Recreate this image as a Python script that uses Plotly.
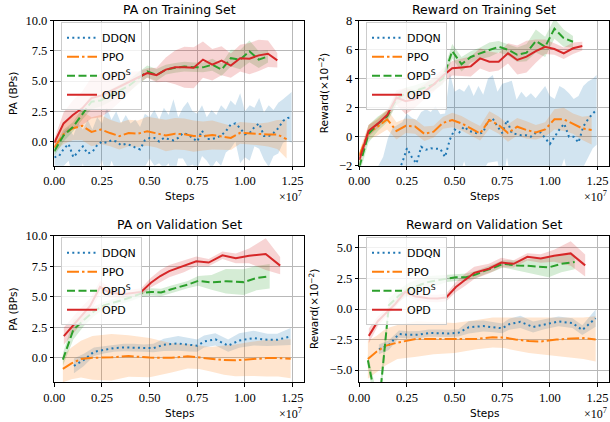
import plotly.graph_objects as go

W, H = 610, 422

# ---------------- data (steps in units of 1e7) ----------------
# training-set evaluation grids
X_TRAIN = [round(1.17 * k / 24, 4) for k in range(25)]          # OPD
X_TRAIN_S = X_TRAIN[:24]                                          # OPD^S
X_TRAIN_PPO = [round(1.17 * k / 24, 4) for k in range(26)]       # PPO
X_TRAIN_DDQN = [round(0.025 * k, 4) for k in range(50)] + [1.245]

# PA on training set
TL_OPD = [-0.1, 1.5, 2.2, 2.75, 3.6, 3.8, 4.15, 4.55, 4.9, 5.3, 5.67, 5.5, 5.95, 6.14, 6.15, 6.1, 6.78, 6.36, 6.69, 6.28, 6.9, 6.86, 7.13, 7.27, 6.72]
TL_OPD_STD = [0.3, 0.9, 1.2, 1.4, 1.7, 1.8, 1.6, 1.3, 0.9, 0.5, 0.4, 0.6, 1.0, 1.4, 1.7, 1.7, 1.5, 1.3, 1.2, 1.0, 1.1, 1.3, 1.3, 1.1, 0.6]
TL_OPDS = [-0.8, 0.5, 1.2, 2.3, 3.3, 3.4, 3.8, 4.2, 4.6, 5.2, 5.8, 5.5, 5.95, 6.1, 6.2, 6.15, 6.14, 6.36, 5.95, 6.9, 6.78, 7.47, 6.78, 7.05]
TL_OPDS_STD = [0.4, 0.5, 0.4, 0.5, 0.6, 0.5, 0.5, 0.5, 0.5, 0.5, 0.5, 0.5, 0.4, 0.4, 0.4, 0.4, 0.4, 0.5, 0.5, 0.7, 0.8, 0.9, 0.7, 0.5]
TL_PPO = [-0.5, 0.6, 1.1, 1.3, 0.8, 1.0, 0.7, 0.45, 0.7, 0.65, 0.85, 0.7, 0.5, 0.65, 0.6, 0.45, 0.45, 0.55, 0.44, 0.3, 0.72, 0.66, 0.6, 0.58, 0.58, 0.2]
TL_PPO_STD = [0.4, 0.8, 1.0, 1.2, 1.2, 1.2, 1.1, 1.1, 1.1, 1.1, 1.2, 1.2, 1.3, 1.3, 1.3, 1.3, 1.2, 1.2, 1.1, 1.0, 0.9, 0.9, 0.9, 1.0, 1.2, 1.6]
TL_DDQN = [-1.3, -1.2, -0.6, -0.2, -1.3, -0.8, -0.4, -1.0, -0.85, -0.3,
           0.0, -0.1, 0.1, 0.0, -0.3, -0.2, -0.3, -0.5, -0.65, 0.1,
           0.3, 0.3, 0.0, 0.3, 0.2, 0.1, 0.3, 0.7, 0.6, 0.3,
           0.0, 0.9, 0.2, 0.2, 0.3, 0.5, 0.85, 1.4, 1.5, 1.1,
           0.6, 0.7, 1.2, 1.5, 0.45, 0.45, 0.7, 1.1, 1.7, 1.95, 2.0]
TL_DDQN_STD = [0.8, 1.2, 1.4, 1.4, 1.8, 2.3, 1.4, 2.8, 1.85, 2.3,
               1.5, 2.9, 1.7, 2.5, 1.8, 2.4, 1.8, 2.3, 1.85, 2.2,
               1.7, 2.3, 1.8, 2.5, 2.0, 3.4, 1.7, 2.1, 2.7, 2.2,
               2.3, 2.1, 1.8, 2.4, 1.9, 2.5, 1.75, 2.0, 1.5, 2.9,
               1.9, 2.3, 1.6, 2.1, 1.95, 2.55, 1.9, 2.1, 1.8, 1.85, 2.1]

# Reward on training set (x 1e-2)
TR_OPD = [-1.6, 0.4, 0.9, 1.5, 2.7, 2.45, 2.6, 3.1, 3.6, 4.2, 4.72, 4.78, 4.85, 5.4, 5.17, 5.17, 5.75, 5.29, 5.52, 5.9, 6.2, 6.05, 5.75, 6.1, 6.25]
TR_OPD_STD = [0.4, 0.4, 0.3, 0.3, 0.5, 0.9, 0.6, 0.5, 0.5, 0.5, 0.5, 0.6, 0.7, 0.7, 0.7, 0.6, 0.7, 1.0, 1.1, 0.8, 0.5, 0.4, 0.4, 0.4, 0.3]
TR_OPDS = [-2.1, 0.2, 0.9, 1.4, 2.6, 3.0, 3.15, 3.35, 3.6, 4.0, 5.9, 5.0, 5.5, 5.75, 6.0, 6.2, 6.0, 5.65, 5.8, 6.6, 6.2, 7.45, 6.8, 6.55]
TR_OPDS_STD = [0.5, 0.6, 0.5, 0.4, 0.4, 0.4, 0.4, 0.4, 0.4, 0.4, 0.5, 0.5, 0.4, 0.4, 0.5, 0.4, 0.4, 0.5, 0.6, 0.8, 0.7, 0.7, 0.6, 0.4]
TR_PPO = [-1.3, 0.3, 0.7, 1.2, 0.4, 0.75, 0.7, 0.2, 0.35, 0.95, 1.15, 0.92, 0.57, 0.23, 1.15, 0.8, 0.25, 0.69, 0.46, 0.3, 0.5, 1.2, 1.2, 0.9, 0.57, 0.46]
TR_PPO_STD = [0.3, 0.5, 0.6, 0.7, 0.6, 0.5, 0.5, 0.5, 0.4, 0.4, 0.5, 0.5, 0.5, 0.5, 0.6, 0.6, 0.6, 0.6, 0.6, 0.5, 0.5, 0.7, 0.8, 0.7, 0.8, 1.0]
TR_DDQN = [-6.0, -6.0, -5.5, -5.0, -4.5, -4.0, -3.5, -3.0, -2.5, -1.8,
           -0.8, -1.4, -1.85, -0.7, -0.9, -0.8, -0.8, -0.85, -1.4, -0.2,
           0.5, 0.3, 0.7, 0.4, 0.3, 0.2, 0.3, 1.1, 1.25, 0.7,
           0.25, 1.15, 0.25, 0.15, 0.1, 0.1, 0.0, 0.25, 0.3, -0.1,
           -0.5, 0.0, 0.5, 0.9, 0.0, 0.0, -0.4, 0.7, 1.2, 1.6, 1.85]
TR_DDQN_STD = [2.0, 2.0, 2.0, 2.0, 2.5, 2.6, 3.4, 3.6, 3.3, 2.8,
               2.4, 2.7, 3.0, 2.4, 2.8, 2.5, 2.9, 2.4, 3.0, 4.6,
               2.6, 3.0, 2.4, 3.2, 2.5, 3.3, 2.6, 2.9, 3.0, 2.4,
               3.4, 2.6, 3.6, 2.4, 3.0, 2.6, 3.0, 2.4, 2.8, 3.6,
               3.3, 2.6, 3.0, 2.4, 3.0, 2.6, 3.2, 2.8, 2.6, 2.4, 2.4]

# validation-set evaluation steps
X_VAL_OPD = [0.05, 0.097, 0.136, 0.188, 0.24, 0.29, 0.36, 0.41, 0.456, 0.507, 0.556, 0.603, 0.68, 0.745, 0.81, 0.882, 0.952, 1.022, 1.109, 1.185]
X_VAL_OPDS = [0.045, 0.1, 0.155, 0.208, 0.26, 0.31, 0.36, 0.41, 0.46, 0.507, 0.56, 0.61, 0.66, 0.7, 0.755, 0.825, 0.9, 0.993, 1.06, 1.13]
X_VAL_DDQN = [0.103, 0.155, 0.208, 0.26, 0.312, 0.365, 0.417, 0.47, 0.52, 0.574, 0.65, 0.708, 0.75, 0.786, 0.845, 0.912, 0.97, 1.045, 1.118, 1.17, 1.24]
X_VAL_PPO = [0.045, 0.09, 0.14, 0.2, 0.3, 0.39, 0.5, 0.615, 0.7, 0.76, 0.82, 0.89, 0.95, 1.035, 1.115, 1.175, 1.24]

# PA on validation set
BL_OPD = [1.78, 2.65, 3.35, 4.25, 5.8, 5.35, 5.2, 5.3, 5.4, 6.15, 6.7, 7.1, 7.5, 7.9, 7.8, 8.4, 8.15, 8.35, 8.5, 7.55]
BL_OPD_STD = [0.7, 0.7, 0.7, 0.6, 0.5, 0.4, 0.3, 0.3, 0.3, 0.4, 0.5, 0.5, 0.5, 0.4, 0.3, 0.3, 0.4, 0.6, 1.3, 0.7]
BL_OPDS = [-0.15, 2.3, 3.1, 3.8, 4.3, 4.5, 4.75, 5.0, 5.3, 5.4, 5.35, 5.6, 5.8, 6.0, 6.3, 6.18, 6.27, 6.2, 6.53, 6.68]
BL_OPDS_STD = [0.5, 0.8, 0.5, 0.4, 0.3, 0.3, 0.3, 0.3, 0.3, 0.3, 0.3, 0.3, 0.3, 0.3, 0.4, 0.6, 1.0, 1.05, 1.0, 1.0]
BL_DDQN = [-0.66, -0.16, 0.5, 0.66, 0.8, 0.85, 0.85, 0.8, 0.8, 1.07, 1.18, 1.07, 1.0, 1.34, 1.52, 1.0, 1.42, 1.62, 1.48, 1.48, 1.75]
BL_DDQN_STD = [0.6, 0.5, 0.35, 0.3, 0.3, 0.3, 0.3, 0.3, 0.35, 0.5, 0.6, 0.55, 0.5, 0.5, 0.5, 0.5, 0.6, 0.6, 0.5, 0.5, 0.7]
BL_PPO = [-0.9, -0.45, -0.1, 0.0, 0.05, 0.15, 0.02, 0.0, 0.13, 0.03, -0.12, -0.18, -0.2, -0.08, -0.02, -0.02, -0.07]
BL_PPO_STD = [1.1, 1.3, 1.5, 1.8, 1.9, 1.7, 1.6, 1.2, 1.0, 0.95, 1.0, 1.2, 1.3, 1.4, 1.5, 1.5, 1.6]

# Reward on validation set (x 1e-2)
BR_OPD = [-2.2, -1.0, -0.4, 0.4, 1.4, 1.05, 0.88, 0.86, 0.94, 1.8, 2.4, 2.96, 3.3, 3.8, 3.7, 4.27, 4.14, 4.36, 4.55, 3.57]
BR_OPD_STD = [0.6, 0.4, 0.3, 0.3, 0.3, 0.3, 0.3, 0.3, 0.3, 0.4, 0.5, 0.5, 0.4, 0.4, 0.3, 0.3, 0.35, 0.5, 1.0, 0.9]
BR_OPDS = [-4.2, -8.5, 0.3, 1.1, 1.65, 1.95, 2.2, 2.35, 2.5, 2.6, 2.6, 2.82, 3.15, 3.35, 3.7, 3.57, 3.52, 3.4, 3.7, 3.85]
BR_OPDS_STD = [0.5, 1.0, 0.6, 0.5, 0.5, 0.5, 0.5, 0.4, 0.3, 0.3, 0.3, 0.3, 0.3, 0.3, 0.3, 0.4, 0.6, 0.8, 0.7, 0.6]
BR_DDQN = [-3.3, -2.95, -2.05, -2.12, -2.1, -1.97, -1.98, -2.0, -1.95, -1.5, -1.4, -1.5, -1.58, -1.25, -1.05, -1.47, -1.25, -1.02, -1.15, -1.72, -0.75]
BR_DDQN_STD = [0.4, 0.4, 0.3, 0.3, 0.3, 0.3, 0.3, 0.3, 0.3, 0.5, 0.45, 0.4, 0.4, 0.45, 0.5, 0.45, 0.4, 0.4, 0.4, 0.4, 0.7]
BR_PPO = [-4.1, -3.5, -3.0, -2.75, -2.45, -2.45, -2.5, -2.45, -2.32, -2.33, -2.5, -2.62, -2.66, -2.5, -2.42, -2.38, -2.5]
BR_PPO_LO = [-5.7, -5.2, -4.6, -4.1, -3.9, -3.7, -3.6, -3.3, -3.15, -3.2, -3.4, -3.6, -3.7, -3.85, -4.0, -4.1, -4.3]
BR_PPO_HI = [-2.6, -2.2, -1.6, -1.3, -1.0, -1.05, -1.15, -0.9, -0.7, -0.7, -0.7, -0.7, -0.7, -0.7, -0.7, -0.7, -0.6]

NAMES = ["DDQN", "PPO", "OPD<sup>S</sup>", "OPD"]
COLORS = ["#1f77b4", "#ff7f0e", "#2ca02c", "#d62728"]
DASHES = ["2px,3.3px", "12px,3px,2.5px,3px", "8px,3.5px", "solid"]

TITLES = ["PA on Training Set", "Reward on Training Set", "PA on Validation Set", "Reward on Validation Set"]
YLABELS = ["PA (BPs)", "Reward(×10<sup>−2</sup>)", "PA (BPs)", "Reward(×10<sup>−2</sup>)"]
X_TICKS = [0.0, 0.25, 0.5, 0.75, 1.0, 1.25]


def band(y, std):
    return [a - s for a, s in zip(y, std)], [a + s for a, s in zip(y, std)]


def rgba(hex_color, a):
    h = hex_color.lstrip("#")
    return "rgba(%d,%d,%d,%.2f)" % (int(h[0:2], 16), int(h[2:4], 16), int(h[4:6], 16), a)


panels = [
    dict(series=[(X_TRAIN_DDQN, TL_DDQN, *band(TL_DDQN, TL_DDQN_STD)),
                 (X_TRAIN_PPO, TL_PPO, *band(TL_PPO, TL_PPO_STD)),
                 (X_TRAIN_S, TL_OPDS, *band(TL_OPDS, TL_OPDS_STD)),
                 (X_TRAIN, TL_OPD, *band(TL_OPD, TL_OPD_STD))],
         yrange=[-2, 10], dtick=2.5, fmt=".1f",
         box=(54.3, 304, 20.7, 165.7), ylabx=12.7),
    dict(series=[(X_TRAIN_DDQN, TR_DDQN, *band(TR_DDQN, TR_DDQN_STD)),
                 (X_TRAIN_PPO, TR_PPO, *band(TR_PPO, TR_PPO_STD)),
                 (X_TRAIN_S, TR_OPDS, *band(TR_OPDS, TR_OPDS_STD)),
                 (X_TRAIN, TR_OPD, *band(TR_OPD, TR_OPD_STD))],
         yrange=[-2, 8], dtick=2, fmt="d",
         box=(359.3, 609, 20.7, 165.7), ylabx=323),
    dict(series=[(X_VAL_DDQN, BL_DDQN, *band(BL_DDQN, BL_DDQN_STD)),
                 (X_VAL_PPO, BL_PPO, *band(BL_PPO, BL_PPO_STD)),
                 (X_VAL_OPDS, BL_OPDS, *band(BL_OPDS, BL_OPDS_STD)),
                 (X_VAL_OPD, BL_OPD, *band(BL_OPD, BL_OPD_STD))],
         yrange=[-2, 10], dtick=2.5, fmt=".1f",
         box=(54.3, 304, 235.7, 382.3), ylabx=12.7),
    dict(series=[(X_VAL_DDQN, BR_DDQN, *band(BR_DDQN, BR_DDQN_STD)),
                 (X_VAL_PPO, BR_PPO, BR_PPO_LO, BR_PPO_HI),
                 (X_VAL_OPDS, BR_OPDS, *band(BR_OPDS, BR_OPDS_STD)),
                 (X_VAL_OPD, BR_OPD, *band(BR_OPD, BR_OPD_STD))],
         yrange=[-6, 6], dtick=2.5, fmt=".1f",
         box=(359.3, 609, 235.7, 382.3), ylabx=313),
]

fig = go.Figure()
layout = dict(width=W, height=H, margin=dict(l=0, r=0, t=0, b=0, pad=0, autoexpand=False),
              autosize=False,
              paper_bgcolor="white", plot_bgcolor="white",
              font=dict(family="DejaVu Sans", color="black"),
              showlegend=True, annotations=[])

SERIF = "Liberation Serif"

for i, p in enumerate(panels):
    s = "" if i == 0 else str(i + 1)
    xa, ya = "x" + s, "y" + s
    leg = "legend" + s
    x0, x1, ytop, ybot = p["box"]
    # bands first
    for (x, y, lo, hi), c in zip(p["series"], COLORS):
        fig.add_trace(go.Scatter(x=list(x) + list(x)[::-1], y=list(hi) + list(lo)[::-1],
                                 fill="toself", fillcolor=rgba(c, 0.2), mode="lines",
                                 line=dict(width=0, color="rgba(0,0,0,0)"),
                                 hoverinfo="skip", showlegend=False, xaxis=xa, yaxis=ya))
    for (x, y, lo, hi), c, nm, d in zip(p["series"], COLORS, NAMES, DASHES):
        fig.add_trace(go.Scatter(x=x, y=y, mode="lines", name=nm,
                                 line=dict(color=c, width=2, dash=d),
                                 xaxis=xa, yaxis=ya, legend=leg))
    common = dict(showline=True, linecolor="black", linewidth=1, mirror=True,
                  ticks="outside", ticklen=3.5, tickwidth=1, tickcolor="black",
                  showgrid=True, gridcolor="#b8b8b8", gridwidth=1, zeroline=False,
                  automargin=False,
                  tickfont=dict(family=SERIF, size=12.5, color="black"), fixedrange=True)
    layout["xaxis" + s] = dict(domain=[x0 / W, x1 / W], range=[0, 1.31], anchor=ya,
                               tickvals=X_TICKS, tickformat=".2f", **common)
    layout["yaxis" + s] = dict(domain=[1 - ybot / H, 1 - ytop / H], range=p["yrange"], anchor=xa,
                               tick0=0, dtick=p["dtick"], tickformat=p["fmt"], **common)
    layout[leg] = dict(x=(x0 + 6.7) / W, y=1 - (ytop + 1.5) / H, xanchor="left", yanchor="top",
                       bgcolor="rgba(255,255,255,0.8)", bordercolor="#cccccc", borderwidth=1,
                       font=dict(family="DejaVu Sans", size=11, color="black"),
                       itemwidth=30, tracegroupgap=0)
    cx = (x0 + x1) / 2
    ann = layout["annotations"]
    ann.append(dict(text=TITLES[i], x=cx / W, y=1 - (ytop - 11) / H, xref="paper", yref="paper",
                    xanchor="center", yanchor="middle", showarrow=False,
                    font=dict(family="DejaVu Sans", size=12.5, color="black")))
    ann.append(dict(text="Steps", x=cx / W, y=1 - (ybot + 30.5) / H, xref="paper", yref="paper",
                    xanchor="center", yanchor="middle", showarrow=False,
                    font=dict(family="DejaVu Sans", size=10.5, color="black")))
    ann.append(dict(text="×10<sup>7</sup>", x=x1 / W, y=1 - (ybot + 31) / H, xref="paper", yref="paper",
                    xanchor="right", yanchor="middle", showarrow=False,
                    font=dict(family=SERIF, size=12, color="black")))
    ann.append(dict(text=YLABELS[i], x=p["ylabx"] / W, y=1 - ((ytop + ybot) / 2) / H,
                    xref="paper", yref="paper", xanchor="center", yanchor="middle",
                    textangle=-90, showarrow=False,
                    font=dict(family="DejaVu Sans", size=10.5, color="black")))

fig.update_layout(**layout)
fig.write_html("out.html", config={"displayModeBar": False},
               post_script="document.body.style.margin='0';document.body.style.overflow='hidden';")
